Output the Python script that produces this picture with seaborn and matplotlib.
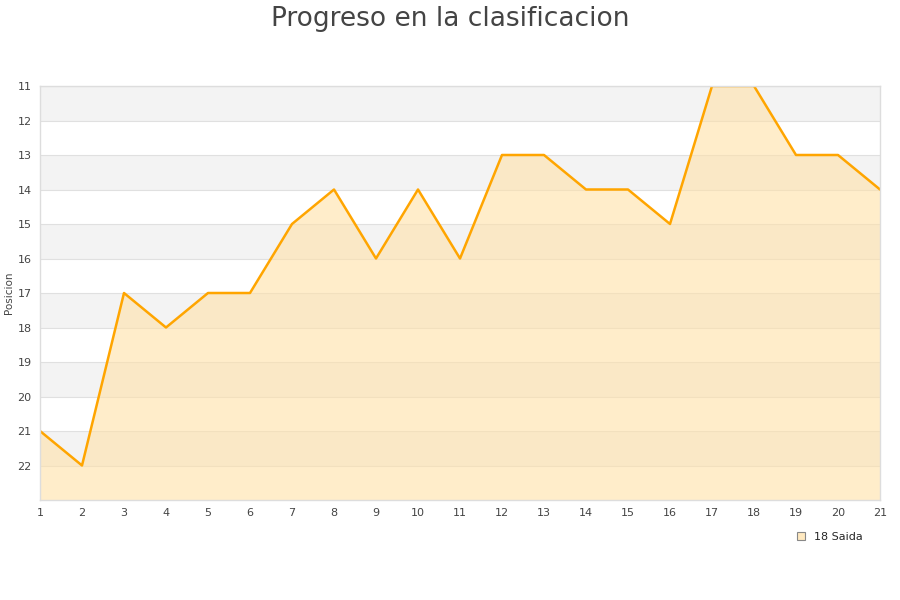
import matplotlib
matplotlib.use("Agg")
import matplotlib.pyplot as plt
import seaborn as sns
import pandas as pd
from matplotlib.patches import Patch

jornadas = list(range(1, 22))
posiciones = [21, 22, 17, 18, 17, 17, 15, 14, 16, 14, 16, 13, 13, 14, 14, 15, 11, 11, 13, 13, 14]
serie = "18 Saida"
titulo = "Progreso en la clasificacion"
ylabel = "Posicion"

df = pd.DataFrame({"Jornada": jornadas, "Posicion": posiciones})

sns.set_theme(style="white")
plt.rcParams['font.family'] = ['DejaVu Sans']

fig = plt.figure(figsize=(9, 6), dpi=100)
ax = fig.add_axes([40/900, 1-500/600, 840/900, 414/600])

# alternating bands
for y0 in range(11, 23):
    if (y0 - 11) % 2 == 0:
        ax.axhspan(y0, y0 + 1, color="#f3f3f3", zorder=0, lw=0)
    ax.axhline(y0, color="#e0e0e0", lw=0.8, zorder=0.5)

ax.fill_between(df["Jornada"], df["Posicion"], 23, color="#ffe1a8", alpha=0.6, lw=0, zorder=1)
sns.lineplot(data=df, x="Jornada", y="Posicion", ax=ax, color="#ffa500", lw=1.8, zorder=2)

ax.set_xlim(1, 21)
ax.set_ylim(23, 11)
ax.set_xticks(jornadas)
ax.set_yticks(range(11, 23))
ax.tick_params(axis="both", labelsize=8, colors="#444444", length=0, pad=6)
ax.set_xlabel("")
ax.set_ylabel(ylabel, fontsize=7.5, color="#444444")
ax.yaxis.set_label_coords(-0.031, 0.5)
for s in ax.spines.values():
    s.set_color("#dddddd")
    s.set_linewidth(1)

fig.text(0.5, 0.99, titulo, ha="center", va="top", fontsize=19, color="#444444")

handle = Patch(facecolor="#ffe9c0", edgecolor="#888888", lw=0.8)
fig.legend([handle], [serie], loc="center", bbox_to_anchor=(830/900, 1-537/600),
           frameon=False, fontsize=8, handlelength=0.7, handleheight=0.7, handletextpad=0.8)

fig.savefig("out.png", dpi=100)
